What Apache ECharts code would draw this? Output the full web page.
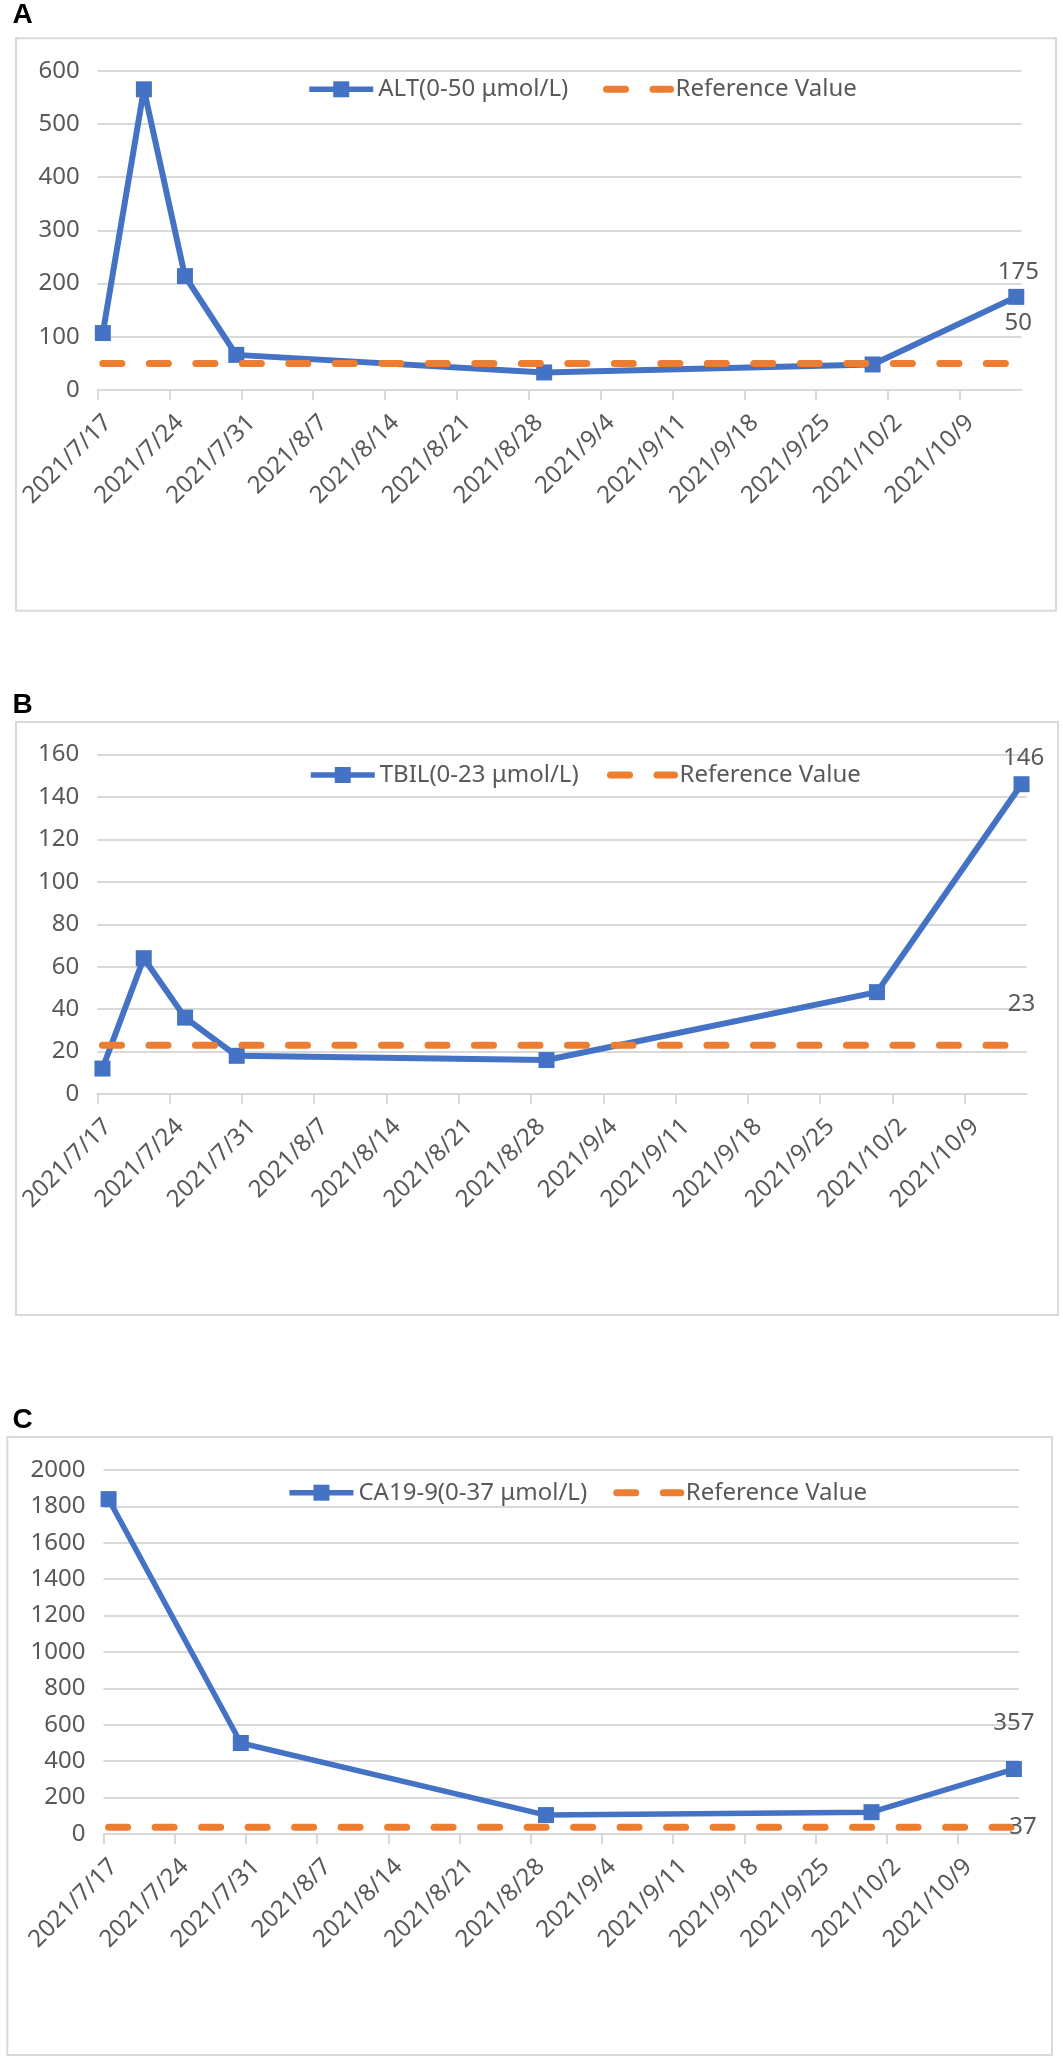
<!DOCTYPE html>
<html>
<head>
<meta charset="utf-8">
<script src="https://cdn.jsdelivr.net/npm/echarts@6/dist/echarts.min.js"></script>
<style>
html,body{margin:0;padding:0;background:#fff;}
#c{width:1063px;height:2062px;}
</style>
</head>
<body>
<div id="c"></div>
<script>
// ---- data ----
const tickLabels = ['2021/7/17','2021/7/24','2021/7/31','2021/8/7','2021/8/14','2021/8/21','2021/8/28','2021/9/4','2021/9/11','2021/9/18','2021/9/25','2021/10/2','2021/10/9'];
const altDates = ['2021/7/17','2021/7/21','2021/7/25','2021/7/30','2021/8/29','2021/9/30','2021/10/14'];
const altValues = [107, 565, 214, 66, 33, 48, 175];
const altRef = [50, 50, 50, 50, 50, 50, 50];
const tbilDates = ['2021/7/17','2021/7/21','2021/7/25','2021/7/30','2021/8/29','2021/9/30','2021/10/14'];
const tbilValues = [12, 64, 36, 18, 16, 48, 146];
const tbilRef = [23, 23, 23, 23, 23, 23, 23];
const caDates = ['2021/7/17','2021/7/30','2021/8/29','2021/9/30','2021/10/14'];
const caValues = [1840, 500, 104, 120, 357];
const caRef = [37, 37, 37, 37, 37];

// ---- style ----
const FONT = 'Noto Sans';
const GRAY = '#595959';
const GRIDC = '#d9d9d9';
const BLUE = '#4472C4';
const ORANGE = '#ED7D31';
const REF_DASH = [19, 27.5];

const start = Date.UTC(2021, 6, 17);
function dayOf(s) {
  const p = s.split('/').map(Number);
  return (Date.UTC(p[0], p[1] - 1, p[2]) - start) / 86400000;
}
const tickPos = tickLabels.map(dayOf);
const labelPos = tickPos.map(v => v + 1);

const panels = [
  {grid:{left:97.7, top:70.7, width:923.7, height:319.3}, yMax:600, yInt:100,
   name:'ALT(0-50 μmol/L)', dates:altDates, vals:altValues, ref:altRef,
   legendCenter:89.3, blueLeft:306.5, refLeft:603,
   valOff:[2,-25], refOff:[2,-40], lineW:6},
  {grid:{left:97.3, top:754.5, width:929.4, height:339.5}, yMax:160, yInt:20,
   name:'TBIL(0-23 μmol/L)', dates:tbilDates, vals:tbilValues, ref:tbilRef,
   legendCenter:775, blueLeft:308, refLeft:607,
   valOff:[2,-26], refOff:[0,-41], lineW:6},
  {grid:{left:103.5, top:1470, width:915.5, height:364}, yMax:2000, yInt:200,
   name:'CA19-9(0-37 μmol/L)', dates:caDates, vals:caValues, ref:caRef,
   legendCenter:1492.7, blueLeft:286.7, refLeft:613.3,
   valOff:[0,-46], refOff:[9,0], lineW:5.5}
];

const grids = [], xAxes = [], yAxes = [], series = [], legends = [];
const labelStyle = {fontSize:24, fontFamily:FONT, color:GRAY};

panels.forEach((p, i) => {
  grids.push(Object.assign({containLabel:false}, p.grid));
  xAxes.push({
    type:'value', gridIndex:i, min:0, max:90,
    axisLine:{show:true, onZero:false, lineStyle:{color:GRIDC, width:2}},
    axisTick:{show:true, length:10, customValues:tickPos, lineStyle:{color:GRIDC, width:2}},
    axisLabel:{customValues:labelPos, rotate:45, margin:29, fontSize:24, fontFamily:FONT, color:GRAY,
      formatter: v => { const k = labelPos.findIndex(q => Math.abs(q - v) < 1e-6); return k >= 0 ? tickLabels[k] : ''; }},
    splitLine:{show:false}
  });
  yAxes.push({
    type:'value', gridIndex:i, min:0, max:p.yMax, interval:p.yInt,
    axisLine:{show:false}, axisTick:{show:false},
    axisLabel:{margin:18, fontSize:24, fontFamily:FONT, color:GRAY, formatter: v => String(v)},
    splitLine:{show:true, lineStyle:{color:GRIDC, width:2}}
  });
  const last = p.dates.length - 1;
  series.push({
    type:'line', name:p.name, xAxisIndex:i, yAxisIndex:i,
    symbol:'rect', symbolSize:16, showSymbol:true,
    lineStyle:{color:BLUE, width:p.lineW}, itemStyle:{color:BLUE, borderWidth:0},
    label:{show:false},
    emphasis:{disabled:true},
    data:p.dates.map((d, k) => {
      const o = {value:[dayOf(d) + 0.5, p.vals[k]]};
      if (k === last) o.label = Object.assign({show:true, position:'inside', offset:p.valOff}, labelStyle);
      return o;
    }),
    z:2
  });
  series.push({
    type:'line', name:'Reference Value', xAxisIndex:i, yAxisIndex:i,
    symbol:'circle', symbolSize:2, showSymbol:true,
    lineStyle:{color:ORANGE, width:7, type:REF_DASH, cap:'round'},
    itemStyle:{color:'rgba(0,0,0,0)', borderWidth:0},
    label:{show:false},
    emphasis:{disabled:true},
    data:p.dates.map((d, k) => {
      const o = {value:[dayOf(d) + 0.5, p.ref[k]]};
      if (k === last) o.label = Object.assign({show:true, position:'inside', offset:p.refOff}, labelStyle);
      return o;
    }),
    z:3
  });
  const lg = {top:p.legendCenter - 12, padding:0, itemWidth:64, itemHeight:20, itemGap:0,
              textStyle:{fontSize:24, fontFamily:FONT, color:GRAY}, selectedMode:false};
  legends.push(Object.assign({}, lg, {left:p.blueLeft,
    data:[{name:p.name, lineStyle:{color:BLUE, width:5.5, type:'solid'}, itemStyle:{color:BLUE}}]}));
  legends.push(Object.assign({}, lg, {left:p.refLeft,
    data:[{name:'Reference Value', lineStyle:{color:ORANGE, width:7, type:REF_DASH, cap:'round'},
           itemStyle:{color:'rgba(0,0,0,0)', borderWidth:0}}]}));
});

const boxes = [
  {x:16, y:38.3, w:1040, h:572.4},
  {x:16, y:722, w:1042, h:593},
  {x:7.3, y:1437, w:1044.7, h:618}
];
const letters = [
  {t:'A', x:12.5, y:15.5},
  {t:'B', x:12.5, y:705},
  {t:'C', x:12.5, y:1420.5}
];
const graphic = [];
boxes.forEach(b => graphic.push({type:'rect', shape:{x:b.x, y:b.y, width:b.w, height:b.h},
  style:{fill:'none', stroke:GRIDC, lineWidth:2}, silent:true, z:-1}));
letters.forEach(l => graphic.push({type:'text', x:l.x, y:l.y,
  style:{text:l.t, fill:'#000', font:'bold 28px "Liberation Sans", Arial, sans-serif', verticalAlign:'middle', align:'left'}}));

const chart = echarts.init(document.getElementById('c'), null, {renderer:'canvas'});
chart.setOption({
  animation:false,
  backgroundColor:'#fff',
  grid:grids, xAxis:xAxes, yAxis:yAxes, series:series, legend:legends, graphic:graphic
});
</script>
</body>
</html>
